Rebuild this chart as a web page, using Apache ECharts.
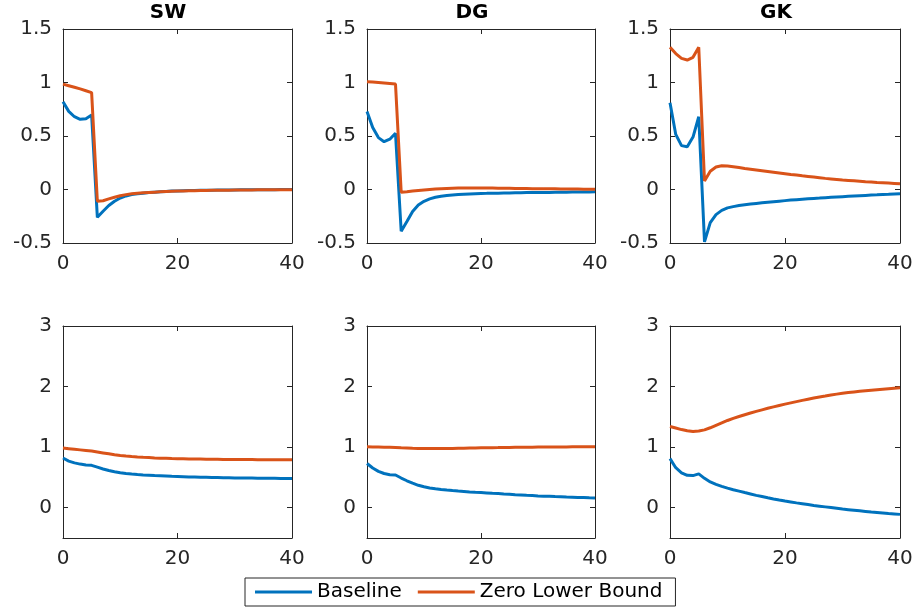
<!DOCTYPE html>
<html><head><meta charset="utf-8">
<script src="https://cdn.jsdelivr.net/npm/echarts@6/dist/echarts.min.js"></script>
<style>html,body{margin:0;padding:0;background:#fff}#c{width:917px;height:608px}</style>
</head><body><div id="c"></div>
<script>
const periods = [0,1,2,3,4,5,6,7,8,9,10,11,12,13,14,15,16,17,18,19,20,21,22,23,24,25,26,27,28,29,30,31,32,33,34,35,36,37,38,39,40];
const panelTitles = ['SW', 'DG', 'GK'];
const seriesNames = ['Baseline', 'Zero Lower Bound'];
const xTicks = [0, 20, 40];
const topYTicks = [-0.5, 0, 0.5, 1, 1.5];
const bottomYTicks = [0, 1, 2, 3];

// Top row
const swTopBase = [0.82,0.73,0.68,0.656,0.662,0.696,-0.26,-0.203,-0.15,-0.11,-0.08,-0.06,-0.047,-0.04,-0.034,-0.029,-0.025,-0.021,-0.018,-0.015,-0.013,-0.011,-0.01,-0.009,-0.008,-0.007,-0.006,-0.005,-0.005,-0.004,-0.004,-0.003,-0.003,-0.003,-0.002,-0.002,-0.002,-0.002,-0.001,-0.001,-0.001];
const swTopZlb = [0.985,0.97,0.955,0.94,0.923,0.906,-0.11,-0.105,-0.088,-0.072,-0.058,-0.048,-0.04,-0.035,-0.031,-0.028,-0.025,-0.022,-0.019,-0.017,-0.015,-0.013,-0.012,-0.011,-0.01,-0.009,-0.008,-0.007,-0.006,-0.006,-0.005,-0.005,-0.004,-0.004,-0.003,-0.003,-0.003,-0.002,-0.002,-0.002,-0.002];
const dgTopBase = [0.73,0.58,0.485,0.447,0.47,0.525,-0.39,-0.3,-0.205,-0.145,-0.11,-0.088,-0.073,-0.063,-0.056,-0.051,-0.047,-0.044,-0.041,-0.039,-0.037,-0.036,-0.035,-0.034,-0.033,-0.032,-0.031,-0.03,-0.029,-0.029,-0.028,-0.027,-0.027,-0.026,-0.025,-0.025,-0.024,-0.024,-0.023,-0.023,-0.022];
const dgTopZlb = [1.006,1.004,1.0,0.995,0.99,0.985,-0.025,-0.021,-0.015,-0.01,-0.005,0.0,0.004,0.007,0.01,0.012,0.013,0.014,0.014,0.014,0.014,0.013,0.013,0.012,0.012,0.011,0.01,0.01,0.009,0.008,0.008,0.007,0.006,0.006,0.005,0.005,0.004,0.004,0.003,0.003,0.002];
const gkTopBase = [0.81,0.515,0.41,0.4,0.49,0.68,-0.49,-0.31,-0.235,-0.195,-0.172,-0.16,-0.15,-0.143,-0.136,-0.13,-0.124,-0.119,-0.114,-0.109,-0.104,-0.099,-0.095,-0.091,-0.087,-0.083,-0.08,-0.076,-0.073,-0.07,-0.067,-0.064,-0.061,-0.058,-0.055,-0.052,-0.05,-0.047,-0.045,-0.042,-0.04];
const gkTopZlb = [1.33,1.27,1.225,1.21,1.235,1.33,0.08,0.17,0.21,0.222,0.22,0.213,0.205,0.197,0.19,0.183,0.176,0.169,0.162,0.155,0.148,0.141,0.135,0.128,0.122,0.116,0.11,0.104,0.099,0.094,0.089,0.085,0.081,0.077,0.073,0.07,0.066,0.063,0.06,0.057,0.054];

// Bottom row
const swBotBase = [0.82,0.77,0.74,0.72,0.705,0.7,0.67,0.64,0.615,0.595,0.578,0.565,0.555,0.547,0.54,0.535,0.53,0.526,0.522,0.518,0.515,0.512,0.509,0.507,0.504,0.502,0.5,0.498,0.496,0.494,0.492,0.491,0.49,0.489,0.488,0.487,0.486,0.485,0.484,0.483,0.482];
const swBotZlb = [0.985,0.975,0.965,0.955,0.945,0.935,0.92,0.905,0.89,0.875,0.863,0.853,0.845,0.838,0.832,0.827,0.822,0.818,0.815,0.812,0.81,0.808,0.806,0.804,0.803,0.802,0.8,0.799,0.798,0.797,0.796,0.795,0.795,0.794,0.793,0.793,0.792,0.792,0.791,0.791,0.79];
const dgBotBase = [0.73,0.655,0.6,0.565,0.545,0.54,0.49,0.445,0.405,0.37,0.345,0.327,0.313,0.302,0.292,0.283,0.275,0.268,0.261,0.255,0.25,0.244,0.238,0.233,0.227,0.222,0.216,0.211,0.205,0.2,0.195,0.191,0.188,0.184,0.181,0.177,0.174,0.17,0.167,0.163,0.16];
const dgBotZlb = [1.005,1.004,1.002,1.0,0.998,0.995,0.99,0.986,0.982,0.979,0.977,0.976,0.976,0.977,0.978,0.979,0.981,0.983,0.985,0.987,0.989,0.99,0.992,0.993,0.995,0.996,0.997,0.998,0.999,1.0,1.001,1.002,1.003,1.003,1.004,1.004,1.005,1.005,1.005,1.006,1.006];
const gkBotBase = [0.81,0.66,0.577,0.535,0.53,0.558,0.485,0.425,0.385,0.352,0.323,0.297,0.274,0.25,0.227,0.204,0.184,0.164,0.145,0.127,0.11,0.095,0.08,0.066,0.052,0.038,0.026,0.014,0.002,-0.01,-0.022,-0.032,-0.042,-0.052,-0.062,-0.072,-0.08,-0.088,-0.096,-0.103,-0.11];
const gkBotZlb = [1.34,1.315,1.29,1.27,1.258,1.265,1.285,1.32,1.36,1.4,1.44,1.475,1.505,1.535,1.563,1.59,1.616,1.641,1.665,1.688,1.71,1.731,1.752,1.772,1.791,1.81,1.827,1.843,1.86,1.875,1.89,1.901,1.912,1.922,1.931,1.94,1.949,1.957,1.965,1.973,1.98];

const panels = [
  [swTopBase, swTopZlb], [dgTopBase, dgTopZlb], [gkTopBase, gkTopZlb],
  [swBotBase, swBotZlb], [dgBotBase, dgBotZlb], [gkBotBase, gkBotZlb]
];

const colors = ['#0072BD', '#D95319'];
const axisColor = '#262626';
const FONT = 'DejaVu Sans';
const gridLeft = [63, 367, 670];
const gridWidth = [229, 228, 230];
const gridTop = [29, 326];
const gridHeight = [214, 212];

const grid = [], xAxis = [], yAxis = [], series = [];
panels.forEach((pair, p) => {
  const r = Math.floor(p / 3), c = p % 3;
  grid.push({left: gridLeft[c], top: gridTop[r], width: gridWidth[c], height: gridHeight[r], containLabel: false});
  const axLine = {show: true, onZero: false, lineStyle: {color: axisColor, width: 1}};
  const tick = {show: true, inside: true, length: 5, lineStyle: {color: axisColor, width: 1}};
  const yTick = r === 0 ? tick : Object.assign({}, tick, {customValues: bottomYTicks});
  xAxis.push({type: 'value', gridIndex: p, position: 'bottom', min: 0, max: 40, interval: 20,
    axisLine: axLine, axisTick: tick, splitLine: {show: false},
    axisLabel: {show: true, color: axisColor, fontFamily: FONT, fontSize: 20, margin: 11}});
  xAxis.push({type: 'value', gridIndex: p, position: 'top', min: 0, max: 40, interval: 20,
    axisLine: axLine, axisTick: tick, splitLine: {show: false}, axisLabel: {show: false}});
  const yMax = r === 0 ? 1.5 : 3;
  const yl = {type: 'value', gridIndex: p, position: 'left', min: -0.5, max: yMax,
    axisLine: axLine, splitLine: {show: false}, axisTick: yTick,
    axisLabel: Object.assign({show: true, color: axisColor, fontFamily: FONT, fontSize: 20, margin: 11},
      r === 0 ? {} : {customValues: bottomYTicks})};
  const yr = {type: 'value', gridIndex: p, position: 'right', min: -0.5, max: yMax,
    axisLine: axLine, splitLine: {show: false}, axisTick: yTick, axisLabel: {show: false}};
  if (r === 0) { yl.interval = 0.5; yr.interval = 0.5; }
  yAxis.push(yl, yr);
  pair.forEach((vals, k) => {
    series.push({
      name: seriesNames[k], type: 'line', xAxisIndex: 2 * p, yAxisIndex: 2 * p,
      data: periods.map((t, i) => [t, vals[i]]),
      symbol: 'none', showSymbol: false, smooth: false, silent: true,
      lineStyle: {color: colors[k], width: 3}, itemStyle: {color: colors[k]},
      z: 2 + k
    });
  });
});

const titleX = [168, 472, 776];
const graphic = panelTitles.map((t, i) => ({
  type: 'text', x: titleX[i], y: 13,
  style: {text: t, fill: '#000', font: 'bold 20px "' + FONT + '"', textAlign: 'center', textVerticalAlign: 'middle'}
}));

const chart = echarts.init(document.getElementById('c'), null, {renderer: 'canvas'});
chart.setOption({
  animation: false,
  backgroundColor: '#fff',
  color: colors,
  grid, xAxis, yAxis, series, graphic,
  legend: {
    data: seriesNames, left: 245, top: 578,
    icon: 'rect', itemWidth: 57, itemHeight: 3,
    padding: [4, 13, 4, 10], itemGap: 16,
    borderColor: axisColor, borderWidth: 1, backgroundColor: '#fff',
    textStyle: {fontFamily: FONT, fontSize: 20, color: '#000'}
  }
});
</script></body></html>
